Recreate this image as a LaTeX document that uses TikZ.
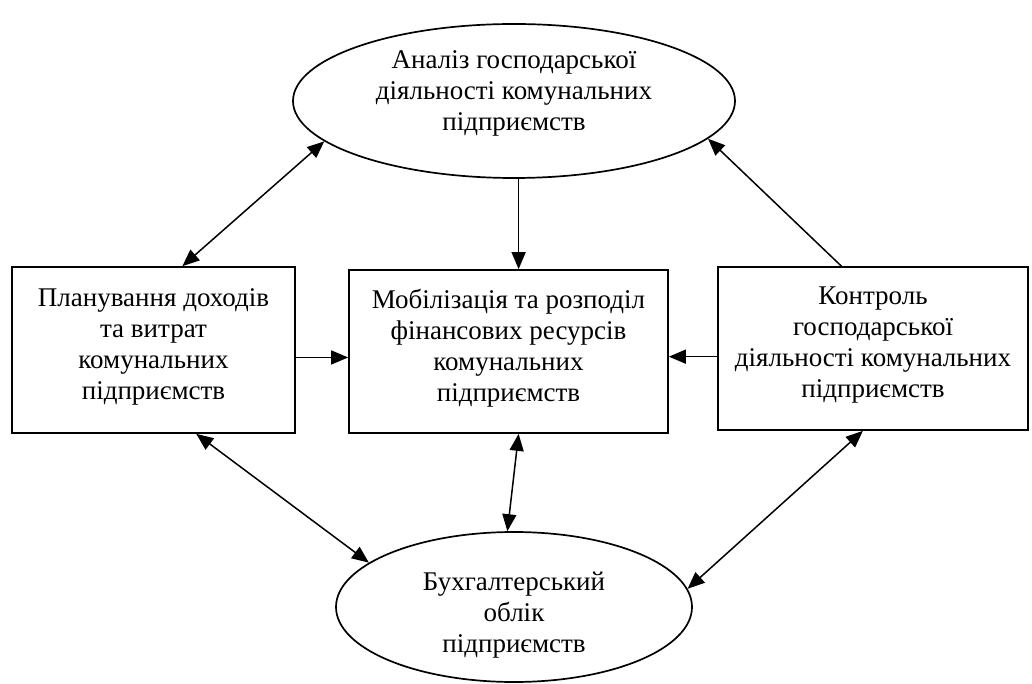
\documentclass[tikz,border=0pt]{standalone}
\usepackage{fontspec}
\setmainfont{Liberation Serif}
\usetikzlibrary{shapes.geometric, arrows.meta, positioning}

\tikzset{
  blok/.style={draw, line width=1.7pt, rectangle, inner sep=0pt},
  oval/.style={draw, line width=1.7pt, ellipse, inner sep=0pt},
  txt/.style={align=center, inner sep=0pt, font=\fontsize{27}{31}\selectfont},
  strilka/.style={line width=1.5pt, -{Triangle[length=17pt,width=14pt]}},
  dvi/.style={line width=1.5pt, {Triangle[length=17pt,width=14pt]}-{Triangle[length=17pt,width=14pt]}}
}

\begin{document}
\begin{tikzpicture}[x=1pt, y=1pt]
\useasboundingbox (0,0) rectangle (1032,683);
\node [oval, minimum width=442, minimum height=154,
  label={[txt, yshift=8pt]center:{Аналіз господарської\\ діяльності комунальних\\ підприємств}}]
  (analiz) at (514, 582) {};
\node [blok, minimum width=283, minimum height=166,
  label={[txt, yshift=3pt]center:{Планування доходів\\ та витрат\\ комунальних\\ підприємств}}]
  (plan) at (153.5, 333) {};
\node [blok, minimum width=319, minimum height=163,
  label={[txt, yshift=3pt]center:{Мобілізація та розподіл\\ фінансових ресурсів\\ комунальних\\ підприємств}}]
  (mob) at (508.5, 331.5) {};
\node [blok, minimum width=310, minimum height=163,
  label={[txt, yshift=3pt]center:{Контроль\\ господарської\\ діяльності комунальних\\ підприємств}}]
  (kontr) at (873, 334.5) {};
\node [oval, minimum width=356, minimum height=150,
  label={[txt, yshift=-8pt]center:{Бухгалтерський\\ облік\\ підприємств}}]
  (buh) at (514, 76) {};

\draw [dvi] (plan.71) -- (analiz.192);
\draw [strilka] (kontr.111) -- (analiz.-11);
\draw [strilka] (mob.83 |- analiz.south) -- (mob.83);
\draw [strilka] (plan.-3) -- (plan.-3 -| mob.west);
\draw [strilka] (kontr.183) -- (kontr.183 -| mob.east);
\draw [dvi] (plan.-63) -- (buh.163);
\draw [dvi] (mob.-83) -- (buh.95);
\draw [dvi] (kontr.-97) -- (buh.6);
\end{tikzpicture}
\end{document}
